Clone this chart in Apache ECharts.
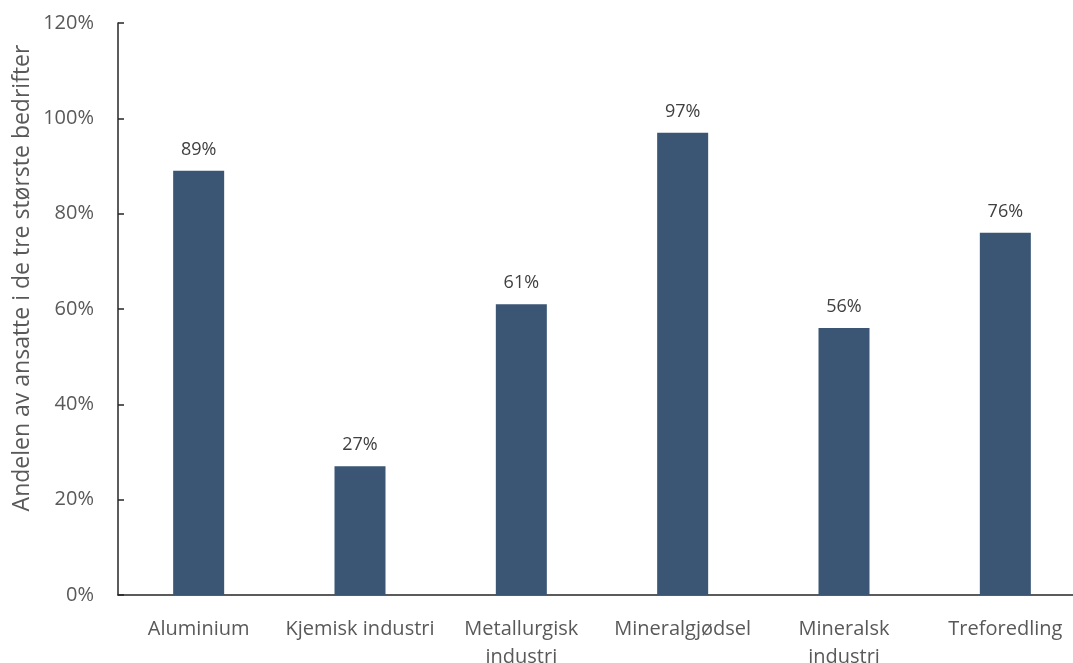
<!DOCTYPE html>
<html>
<head>
<meta charset="utf-8">
<style>
  html, body { margin: 0; padding: 0; background: #fff; overflow: hidden; }
  #chart { width: 1073px; height: 663px; }
</style>
<script src="https://cdn.jsdelivr.net/npm/echarts@6/dist/echarts.min.js"></script>
</head>
<body>
<div id="chart"></div>
<script>
// Andel ansatte i de tre største bedriftene per bransje (prosent)
const categories = ['Aluminium', 'Kjemisk industri', 'Metallurgisk\nindustri', 'Mineralgjødsel', 'Mineralsk\nindustri', 'Treforedling'];
const shares = [89, 27, 61, 97, 56, 76];
const yTicks = [0, 20, 40, 60, 80, 100, 120];
const yTitle = 'Andelen av ansatte i de tre største bedrifter';

const FONT = 'Open Sans';
const chart = echarts.init(document.getElementById('chart'), null, { renderer: 'canvas' });

chart.setOption({
  animation: false,
  backgroundColor: '#ffffff',
  // the last category band runs past the right edge of the canvas
  grid: { left: 118, right: -13, top: 23, bottom: 68, containLabel: false, outerBoundsMode: 'none' },
  xAxis: {
    type: 'category',
    data: categories,
    axisLine: { show: true, lineStyle: { color: '#262626', width: 1.5 } },
    axisTick: { show: false },
    axisLabel: {
      color: '#595959', fontFamily: FONT, fontSize: 20, margin: 20,
      lineHeight: 28, interval: 0
    },
    splitLine: { show: false }
  },
  yAxis: {
    type: 'value',
    min: yTicks[0],
    max: yTicks[yTicks.length - 1],
    interval: yTicks[1] - yTicks[0],
    axisLine: { show: true, lineStyle: { color: '#262626', width: 1.5 } },
    axisTick: { show: true, inside: true, length: 6, lineStyle: { color: '#262626', width: 1.5 } },
    axisLabel: {
      color: '#595959', fontFamily: FONT, fontSize: 20, margin: 24,
      formatter: v => v + '%'
    },
    splitLine: { show: false }
  },
  graphic: [{
    type: 'text',
    x: 22,
    y: 278,
    rotation: Math.PI / 2,
    style: {
      text: yTitle,
      fill: '#595959',
      font: '23px "' + FONT + '"',
      textAlign: 'center',
      textVerticalAlign: 'middle'
    }
  }],
  series: [{
    type: 'bar',
    data: shares,
    barWidth: 51,
    itemStyle: { color: '#3a5674' },
    label: {
      show: true,
      position: 'top',
      distance: 12,
      color: '#404040',
      fontFamily: FONT,
      fontSize: 18,
      formatter: p => p.value + '%'
    }
  }]
});
</script>
</body>
</html>
